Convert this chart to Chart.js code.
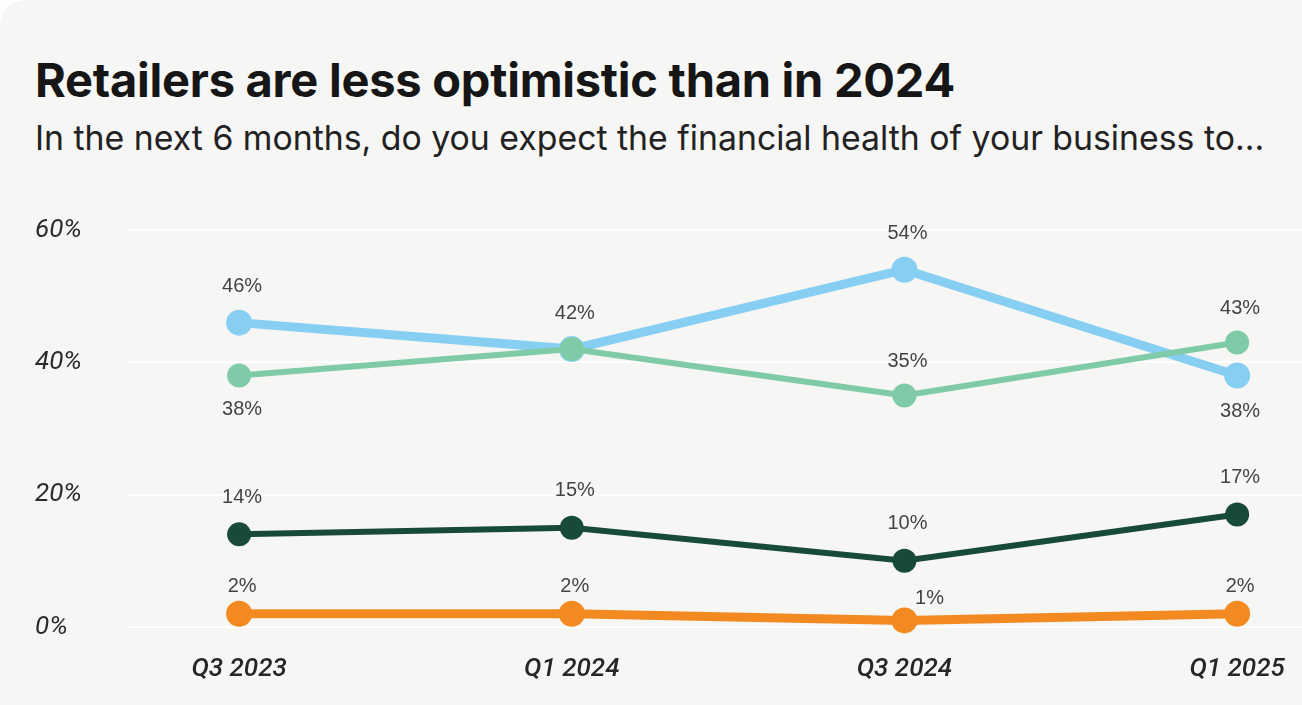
<!DOCTYPE html>
<html>
<head>
<meta charset="utf-8">
<script src="https://cdn.jsdelivr.net/npm/chart.js@4.4.1/dist/chart.umd.min.js"></script>
<style>
  html, body { margin: 0; padding: 0; background: #ffffff; }
  #card {
    position: absolute; left: 0; top: 0; width: 1302px; height: 705px;
    background: #f6f6f4; border-top-left-radius: 26px; overflow: hidden;
  }
  #title {
    position: absolute; left: 35px; top: 56px; margin: 0;
    font-family: 'Inter', sans-serif; font-weight: 700; font-size: 47px;
    line-height: 1; color: #161616; letter-spacing: -0.25px; white-space: nowrap;
  }
  #subtitle {
    position: absolute; left: 35px; top: 121px; margin: 0;
    font-family: 'Inter', sans-serif; font-weight: 400; font-size: 33.8px;
    line-height: 1; color: #222; white-space: nowrap;
  }
  #c { position: absolute; left: 0; top: 0; }
</style>
</head>
<body>
<div id="card">
  <h1 id="title">Retailers are less optimistic than in 2024</h1>
  <p id="subtitle">In the next 6 months, do you expect the financial health of your business to...</p>
  <canvas id="c" width="1302" height="705"></canvas>
</div>
<script>
// ---- data ----
const categories = ['Q3 2023', 'Q1 2024', 'Q3 2024', 'Q1 2025'];
const seriesBlue   = [46, 42, 54, 38];
const seriesGreen  = [38, 42, 35, 43];
const seriesDark   = [14, 15, 10, 17];
const seriesOrange = [2, 2, 1, 2];
const yTicks = [0, 20, 40, 60];

function pts(arr) { return arr.map((v, i) => ({ x: i, y: v })); }

const labelPlugin = {
  id: 'pointLabels',
  afterDatasetsDraw(chart) {
    const ctx = chart.ctx;
    ctx.save();
    ctx.font = '20px "Liberation Sans", Arial, sans-serif';
    ctx.fillStyle = '#444444';
    ctx.textAlign = 'center';
    ctx.textBaseline = 'middle';
    chart.data.datasets.forEach((ds, di) => {
      const meta = chart.getDatasetMeta(di);
      meta.data.forEach((el, i) => {
        const pos = ds.labelPos[i];
        if (pos === 'none') return;
        const v = ds.data[i].y;
        let x = el.x + 3, y = el.y;
        if (pos === 'above') y -= ds.labelOffset;
        else if (pos === 'below') y += ds.labelOffset;
        else if (pos === 'right') { x += 22; y -= 22; }
        ctx.fillText(v + '%', x, y);
      });
    });
    ctx.restore();
  }
};

const mk = (label, arr, color, width, radius, order, labelPos, labelOffset) => ({
  label, data: pts(arr), borderColor: color, backgroundColor: color,
  pointBackgroundColor: color, pointBorderColor: color, borderWidth: width,
  pointRadius: radius, pointHoverRadius: radius, pointBorderWidth: 0,
  tension: 0, order, labelPos, labelOffset, clip: false
});

new Chart(document.getElementById('c'), {
  type: 'line',
  data: {
    datasets: [
      mk('Improve', seriesBlue, '#86cff2', 9, 13, 4, ['above', 'above', 'above', 'below'], 36),
      mk('Stay the same', seriesGreen, '#80cba7', 6, 12, 3, ['below', 'none', 'above', 'above'], 34),
      mk('Worsen', seriesDark, '#184a3c', 6, 12, 2, ['above', 'above', 'above', 'above'], 37),
      mk('Don\'t know', seriesOrange, '#f38a21', 9, 13, 1, ['above', 'above', 'right', 'above'], 27)
    ]
  },
  options: {
    responsive: false,
    animation: false,
    events: [],
    layout: { autoPadding: false, padding: { left: 35, top: 230, right: 0, bottom: 0 } },
    plugins: { legend: { display: false }, tooltip: { enabled: false }, title: { display: false } },
    scales: {
      x: {
        type: 'linear',
        min: -0.334, max: 3.195,
        afterBuildTicks(scale) { scale.ticks = categories.map((c, i) => ({ value: i })); },
        afterFit(scale) { scale.height = 78; scale.paddingLeft = 0; scale.paddingRight = 0; },
        grid: { display: false, drawTicks: false },
        border: { display: false },
        ticks: {
          callback: (v) => categories[v],
          font: { family: 'Roboto', style: 'italic', weight: 500, size: 26 },
          color: '#262626',
          padding: 27,
          maxRotation: 0,
          autoSkip: false
        }
      },
      y: {
        min: 0, max: 60,
        afterBuildTicks(scale) { scale.ticks = yTicks.map(v => ({ value: v })); },
        afterFit(scale) { scale.width = 93; scale.paddingTop = 0; scale.paddingBottom = 0; },
        grid: { color: '#ffffff', lineWidth: 2, drawTicks: false },
        border: { display: false },
        ticks: {
          callback: (v) => v + '%',
          font: { family: 'Roboto', style: 'italic', size: 26 },
          color: '#2b2b2b',
          crossAlign: 'far',
          padding: 0
        }
      }
    }
  },
  plugins: [labelPlugin]
});
</script>
</body>
</html>
